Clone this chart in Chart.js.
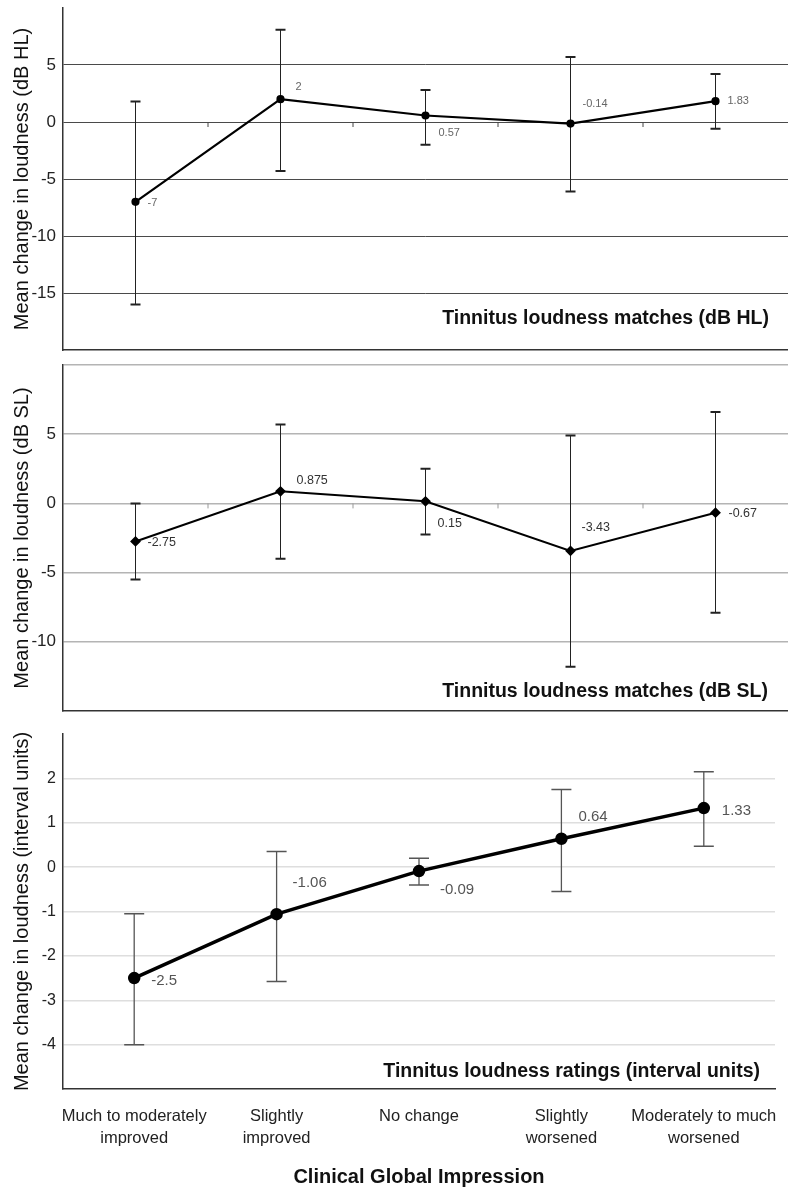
<!DOCTYPE html>
<html>
<head>
<meta charset="utf-8">
<script src="https://cdn.jsdelivr.net/npm/chart.js@4.4.0/dist/chart.umd.min.js"></script>
<style>
  html, body { margin: 0; padding: 0; background: #fff; }
  body { width: 788px; height: 1190px; position: relative; overflow: hidden; }
  canvas { position: absolute; left: 0; }
</style>
</head>
<body>
<canvas id="chart-hl" width="788" height="360" style="top:0px"></canvas>
<canvas id="chart-sl" width="788" height="368" style="top:360px"></canvas>
<canvas id="chart-ratings" width="788" height="462" style="top:728px"></canvas>
<script>
/* Clinical Global Impression categories (x axis, shared by all three panels) */
const categories = [
  ['Much to moderately', 'improved'],
  ['Slightly', 'improved'],
  'No change',
  ['Slightly', 'worsened'],
  ['Moderately to much', 'worsened'],
];

/* Panel 1: loudness matches, dB HL */
const meansHL = [-7, 2, 0.57, -0.14, 1.83];
const upperHL = [1.8, 8.1, 2.8, 5.7, 4.2];
const lowerHL = [-16, -4.3, -2.0, -6.1, -0.6];
const labelsHL = ['-7', '2', '0.57', '-0.14', '1.83'];

/* Panel 2: loudness matches, dB SL */
const meansSL = [-2.75, 0.875, 0.15, -3.43, -0.67];
const upperSL = [0, 5.7, 2.5, 4.9, 6.6];
const lowerSL = [-5.5, -4.0, -2.25, -11.8, -7.9];
const labelsSL = ['-2.75', '0.875', '0.15', '-3.43', '-0.67'];

/* Panel 3: loudness ratings, interval units */
const meansRating = [-2.5, -1.06, -0.09, 0.64, 1.33];
const upperRating = [-1.05, 0.35, 0.2, 1.75, 2.15];
const lowerRating = [-4.0, -2.58, -0.4, -0.55, 0.47];
const labelsRating = ['-2.5', '-1.06', '-0.09', '0.64', '1.33'];

const FONT = 'Arial, "Liberation Sans", Helvetica, sans-serif';

/* error bars drawn under the line */
const errorBars = {
  id: 'errorBars',
  beforeDatasetsDraw(chart, args, opts) {
    const { ctx } = chart;
    const x = chart.scales.x;
    const y = chart.scales.y;
    ctx.save();
    ctx.strokeStyle = opts.color;
    for (let i = 0; i < opts.upper.length; i++) {
      const px = x.getPixelForValue(i);
      const top = y.getPixelForValue(opts.upper[i]);
      const bot = y.getPixelForValue(opts.lower[i]);
      ctx.lineWidth = opts.lineWidth;
      ctx.beginPath();
      ctx.moveTo(px, top);
      ctx.lineTo(px, bot);
      ctx.stroke();
      ctx.lineWidth = opts.capWidth;
      ctx.beginPath();
      ctx.moveTo(px - opts.cap, top);
      ctx.lineTo(px + opts.cap, top);
      ctx.moveTo(px - opts.cap, bot);
      ctx.lineTo(px + opts.cap, bot);
      ctx.stroke();
    }
    // small category ticks hanging off the zero line
    if (opts.zeroTicks) {
      const y0 = y.getPixelForValue(0);
      ctx.strokeStyle = opts.zeroTickColor;
      ctx.lineWidth = 1;
      for (let i = 0; i < opts.upper.length - 1; i++) {
        const bx = (x.getPixelForValue(i) + x.getPixelForValue(i + 1)) / 2;
        ctx.beginPath();
        ctx.moveTo(bx, y0);
        ctx.lineTo(bx, y0 + 5);
        ctx.stroke();
      }
    }
    ctx.restore();
  },
};

/* value labels next to the points + panel caption */
const annotations = {
  id: 'annotations',
  afterDatasetsDraw(chart, args, opts) {
    const { ctx, chartArea } = chart;
    const pts = chart.getDatasetMeta(0).data;
    ctx.save();
    ctx.font = opts.labelFont;
    ctx.fillStyle = opts.labelColor;
    ctx.textAlign = 'left';
    ctx.textBaseline = 'middle';
    opts.labels.forEach((txt, i) => {
      const off = opts.offsets[i];
      ctx.fillText(txt, pts[i].x + off[0], pts[i].y + off[1]);
    });
    ctx.font = 'bold 19.5px ' + FONT;
    ctx.fillStyle = '#111';
    ctx.textAlign = 'right';
    ctx.fillText(opts.caption, chartArea.right + opts.captionDx, chartArea.bottom + opts.captionDy);
    ctx.restore();
  },
};

/* no extra room for half tick labels: chart areas are placed by hand */
function noPad(s) {
  s.paddingTop = 0;
  s.paddingBottom = 0;
  s.paddingLeft = 0;
  s.paddingRight = 0;
}

function yScale(min, max, step, title, tickSize, gridColor, gridWidth, keepTop) {
  return {
    min: min,
    max: max,
    afterFit: (s) => { s.width = 63; noPad(s); },
    ticks: {
      stepSize: step,
      padding: 7,
      color: '#222',
      font: { family: FONT, size: tickSize },
      callback: (v) => (v === min || v === max ? '' : v),
    },
    grid: {
      drawTicks: false,
      lineWidth: gridWidth,
      color: (c) => (c.tick.value === max && !keepTop) || c.tick.value === min ? 'rgba(0,0,0,0)' : gridColor,
    },
    border: { color: '#333', width: 1.5 },
    title: {
      display: true,
      text: title,
      color: '#111',
      font: { family: FONT, size: 20 },
      padding: { top: 10, bottom: 0 },
    },
  };
}

function hiddenX() {
  return {
    type: 'category',
    offset: true,
    afterFit: (s) => { s.height = 0; noPad(s); },
    grid: { display: false },
    ticks: { display: false },
    border: { display: true, color: '#333', width: 1.5 },
  };
}

function lineDataset(values, lineWidth, pointStyle, radius) {
  return {
    data: values,
    borderColor: '#000',
    backgroundColor: '#000',
    borderWidth: lineWidth,
    pointStyle: pointStyle,
    pointRadius: radius,
    pointBackgroundColor: '#000',
    pointBorderColor: '#000',
    tension: 0,
    clip: false,
  };
}

new Chart(document.getElementById('chart-hl').getContext('2d'), {
  type: 'line',
  data: { labels: categories, datasets: [lineDataset(meansHL, 2.2, 'circle', 3)] },
  plugins: [errorBars, annotations],
  options: {
    responsive: false,
    animation: false,
    layout: { autoPadding: false, padding: { top: 8, right: 0, bottom: 10, left: 0 } },
    scales: {
      x: hiddenX(),
      y: yScale(-20, 10, 5, 'Mean change in loudness (dB HL)', 17, '#4a4a4a', 1, false),
    },
    plugins: {
      legend: { display: false },
      tooltip: { enabled: false },
      errorBars: { upper: upperHL, lower: lowerHL, color: '#222', lineWidth: 1, capWidth: 2, cap: 5, zeroTicks: true, zeroTickColor: '#444' },
      annotations: {
        labels: labelsHL,
        offsets: [[12, 1], [15, -12], [13, 17], [12, -20], [12, 0]],
        labelFont: '11px ' + FONT,
        labelColor: '#666',
        caption: 'Tinnitus loudness matches (dB HL)',
        captionDx: -19,
        captionDy: -31,
      },
    },
  },
});

new Chart(document.getElementById('chart-sl').getContext('2d'), {
  type: 'line',
  data: { labels: categories, datasets: [lineDataset(meansSL, 2, 'rectRot', 4)] },
  plugins: [errorBars, annotations],
  options: {
    responsive: false,
    animation: false,
    layout: { autoPadding: false, padding: { top: 5, right: 0, bottom: 17, left: 0 } },
    scales: {
      x: hiddenX(),
      y: yScale(-15, 10, 5, 'Mean change in loudness (dB SL)', 17, '#b4b4b4', 1.5, true),
    },
    plugins: {
      legend: { display: false },
      tooltip: { enabled: false },
      errorBars: { upper: upperSL, lower: lowerSL, color: '#222', lineWidth: 1, capWidth: 2, cap: 5, zeroTicks: true, zeroTickColor: '#999' },
      annotations: {
        labels: labelsSL,
        offsets: [[12, 1], [16, -11], [12, 22], [11, -23], [13, 1]],
        labelFont: '12.5px ' + FONT,
        labelColor: '#333',
        caption: 'Tinnitus loudness matches (dB SL)',
        captionDx: -20,
        captionDy: -19,
      },
    },
  },
});

new Chart(document.getElementById('chart-ratings').getContext('2d'), {
  type: 'line',
  data: { labels: categories, datasets: [lineDataset(meansRating, 3.5, 'circle', 4.5)] },
  plugins: [errorBars, annotations],
  options: {
    responsive: false,
    animation: false,
    layout: { autoPadding: false, padding: { top: 6, right: 13, bottom: 0, left: 0 } },
    scales: {
      x: {
        type: 'category',
        offset: true,
        afterFit: (s) => { s.height = 101; noPad(s); },
        grid: { display: false },
        border: { display: true, color: '#333', width: 1.5 },
        ticks: {
          padding: 9,
          maxRotation: 0,
          autoSkip: false,
          color: '#222',
          font: { family: FONT, size: 16.5, lineHeight: 1.3 },
        },
        title: {
          display: true,
          text: 'Clinical Global Impression',
          color: '#111',
          font: { family: FONT, size: 20, weight: 'bold' },
          padding: { top: 0, bottom: 1 },
        },
      },
      y: yScale(-5, 3, 1, 'Mean change in loudness (interval units)', 16, '#dedede', 1.5, false),
    },
    plugins: {
      legend: { display: false },
      tooltip: { enabled: false },
      errorBars: { upper: upperRating, lower: lowerRating, color: '#555', lineWidth: 1.3, capWidth: 1.5, cap: 10, zeroTicks: false },
      annotations: {
        labels: labelsRating,
        offsets: [[17, 3], [16, -31], [21, 19], [17, -22], [18, 3]],
        labelFont: '15px ' + FONT,
        labelColor: '#555',
        caption: 'Tinnitus loudness ratings (interval units)',
        captionDx: -15,
        captionDy: -17,
      },
    },
  },
});
</script>
</body>
</html>
